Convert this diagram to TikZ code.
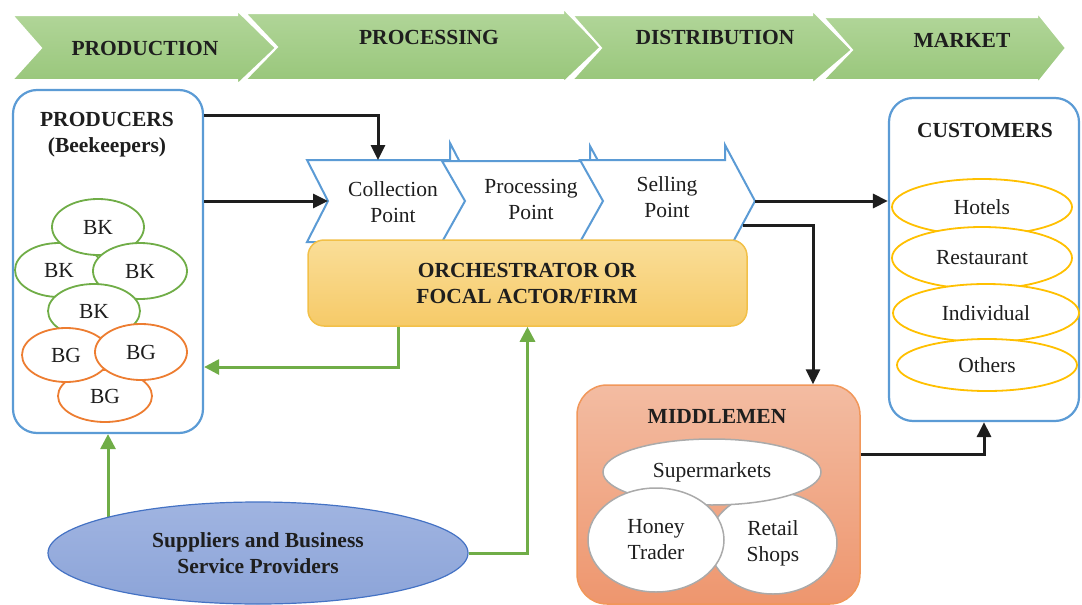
\documentclass[tikz,border=0pt]{standalone}
\usepackage{fontspec}
\setmainfont{Liberation Serif}
\usetikzlibrary{arrows.meta,shapes.geometric,backgrounds}
\definecolor{bl}{RGB}{91,155,213}
\definecolor{grn}{RGB}{112,173,71}
\definecolor{org}{RGB}{237,125,49}
\definecolor{gold}{RGB}{255,192,0}
\definecolor{gry}{RGB}{170,170,170}
\definecolor{ablack}{RGB}{30,30,30}
\definecolor{txt}{RGB}{30,30,30}
\definecolor{chevtop}{RGB}{178,214,154}
\definecolor{chevbot}{RGB}{152,198,122}
\definecolor{orchtop}{RGB}{250,222,152}
\definecolor{orchbot}{RGB}{246,202,104}
\definecolor{orchdraw}{RGB}{242,192,72}
\definecolor{midtop}{RGB}{243,188,162}
\definecolor{midbot}{RGB}{238,150,110}
\definecolor{suptop}{RGB}{160,180,225}
\definecolor{supbot}{RGB}{140,164,216}
\definecolor{supdraw}{RGB}{68,114,196}
\tikzset{
  T/.style={font=\fontsize{21.5}{26}\selectfont, text=txt, align=center, inner sep=0pt},
  TB/.style={font=\fontsize{21.5}{26}\selectfont\bfseries, text=txt, align=center, inner sep=0pt},
  blk/.style={draw=ablack, line width=3pt, -{Triangle[length=15pt,width=14pt]}},
  grnarrow/.style={draw=grn, line width=3pt, -{Triangle[length=15pt,width=15pt]}},
  chev/.style={top color=chevtop, bottom color=chevbot, draw=white, line width=2pt},
  vchev/.style={fill=white, draw=bl, line width=2pt, line join=miter},
  bigbox/.style={draw=bl, line width=2.2pt, fill=white, rounded corners=24pt},
  bkell/.style={ellipse, draw=grn, line width=1.8pt, fill=white, inner sep=0pt, T},
  bgell/.style={ellipse, draw=org, line width=1.8pt, fill=white, inner sep=0pt, T},
  cuell/.style={ellipse, draw=gold, line width=1.8pt, fill=white, inner sep=0pt, T},
  miell/.style={ellipse, draw=gry, line width=1.5pt, fill=white, inner sep=0pt, T},
}
\begin{document}
\begin{tikzpicture}[x=1pt,y=-1pt]
\useasboundingbox (0,0) rectangle (1082,605);

% top band of stage chevrons
\path[chev] (12,15) -- (237,15) -- (237,10) -- (276,48) -- (237,85) -- (237,80) -- (12,80) -- (41,48) -- cycle;
\path[chev] (245,13) -- (563,13) -- (563,8) -- (601,47) -- (563,83) -- (563,80) -- (245,80) -- (277,47) -- cycle;
\path[chev] (572,15) -- (812,15) -- (812,10) -- (852,50) -- (812,84) -- (812,80) -- (572,80) -- (601,48) -- cycle;
\path[chev] (823,17) -- (1037,17) -- (1037,12) -- (1066,48) -- (1037,84) -- (1037,80) -- (823,80) -- (852,50) -- cycle;
\node[TB] (sprod) at (145,48) {PRODUCTION};
\node[TB] (sproc) at (429,37) {PROCESSING};
\node[TB] (sdist) at (715,37) {DISTRIBUTION};
\node[TB] (smark) at (962,40) {MARKET};

% producers
\node[bigbox, minimum width=190pt, minimum height=343pt] (prod) at (108,261.5) {};
\node[TB] (prodt) at (107,135) {PRODUCERS\\(Beekeepers)};
\node[bkell, minimum width=88pt, minimum height=54pt] (bk2) at (59,270) {BK};
\node[bkell, minimum width=92pt, minimum height=56pt] (bk1) at (98,227) {BK};
\node[bkell, minimum width=94pt, minimum height=56pt] (bk3) at (140,271) {BK};
\node[bkell, minimum width=92pt, minimum height=54pt] (bk4) at (94,311) {BK};
\node[bgell, minimum width=94pt, minimum height=52pt] (bg3) at (105,396) {BG};
\node[bgell, minimum width=88pt, minimum height=54pt] (bg1) at (66,355) {BG};
\node[bgell, minimum width=92pt, minimum height=56pt] (bg2) at (141,352) {BG};

% customers
\node[bigbox, minimum width=190pt, minimum height=323pt] (cust) at (984,259.5) {};
\node[TB] (custt) at (985,130) {CUSTOMERS};
\node[cuell, minimum width=180pt, minimum height=56pt] (hot) at (982,207) {Hotels};
\node[cuell, minimum width=180pt, minimum height=62pt] (res) at (982,258) {Restaurant};
\node[cuell, minimum width=186pt, minimum height=58pt] (ind) at (986,313) {Individual};
\node[cuell, minimum width=180pt, minimum height=52pt] (oth) at (987,365) {Others};

% value chain chevrons
\path[vchev] (307,160) -- (450,160) -- (450,143) -- (480,201) -- (450,259) -- (450,242) -- (307,242) -- (328,201) -- cycle;
\path[vchev] (442,161) -- (590,161) -- (590,146) -- (620,201) -- (590,256) -- (590,242) -- (442,242) -- (465,201) -- cycle;
\path[vchev] (580,160) -- (725,160) -- (725,145) -- (755,201) -- (725,257) -- (725,242) -- (580,242) -- (603,201) -- cycle;
\coordinate (cptop) at (378,160);
\coordinate (cpnotch) at (328,201);
\coordinate (sptip) at (755,201);
\coordinate (spedge) at (743,225);
\node[T] (cpt) at (393,202) {Collection\\Point};
\node[T] (ppt) at (531,199) {Processing\\Point};
\node[T] (spt) at (667,197) {Selling\\Point};

% orchestrator
\node[draw=orchdraw, line width=1.5pt, top color=orchtop, bottom color=orchbot, rounded corners=16pt, minimum width=439pt, minimum height=86pt] (orch) at (527.5,283) {};
\node[TB] (orcht) at (527,283) {ORCHESTRATOR OR\\FOCAL ACTOR/FIRM};

% middlemen
\node[draw=org!80, line width=1.5pt, top color=midtop, bottom color=midbot, rounded corners=30pt, minimum width=283pt, minimum height=219pt] (mid) at (718.5,494.5) {};
\node[TB] (midt) at (717,416) {MIDDLEMEN};
\node[miell, minimum width=128pt, minimum height=102pt] (ret) at (773,543) {Retail\\Shops};
\node[miell, minimum width=218pt, minimum height=66pt] (smk) at (712,472) {Supermarkets};
\node[miell, minimum width=136pt, minimum height=104pt] (hon) at (656,540) {Honey\\Trader};

% suppliers
\node[ellipse, draw=supdraw, line width=1.2pt, top color=suptop, bottom color=supbot, minimum width=420pt, minimum height=102pt, TB] (sup) at (258,553) {Suppliers and Business\\Service Providers};

% connectors
\draw[blk] (prod.east |- 0,115) -| (cptop);
\draw[blk] (prod.east |- cpnotch) -- (cpnotch);
\draw[blk] (sptip) -- (sptip -| cust.west);
\draw[blk] (spedge) -| (mid.north -| 813,0);
\draw[blk] (mid.east |- 0,454) -| (cust.south);
\draw[grnarrow] (orch.south -| 398,0) |- (prod.east |- 0,367);
\draw[grnarrow] (sup.east) -| (orch.south);
\begin{scope}[on background layer]
\draw[grnarrow] (prod.south |- sup.center) -- (prod.south);
\end{scope}
\end{tikzpicture}
\end{document}
